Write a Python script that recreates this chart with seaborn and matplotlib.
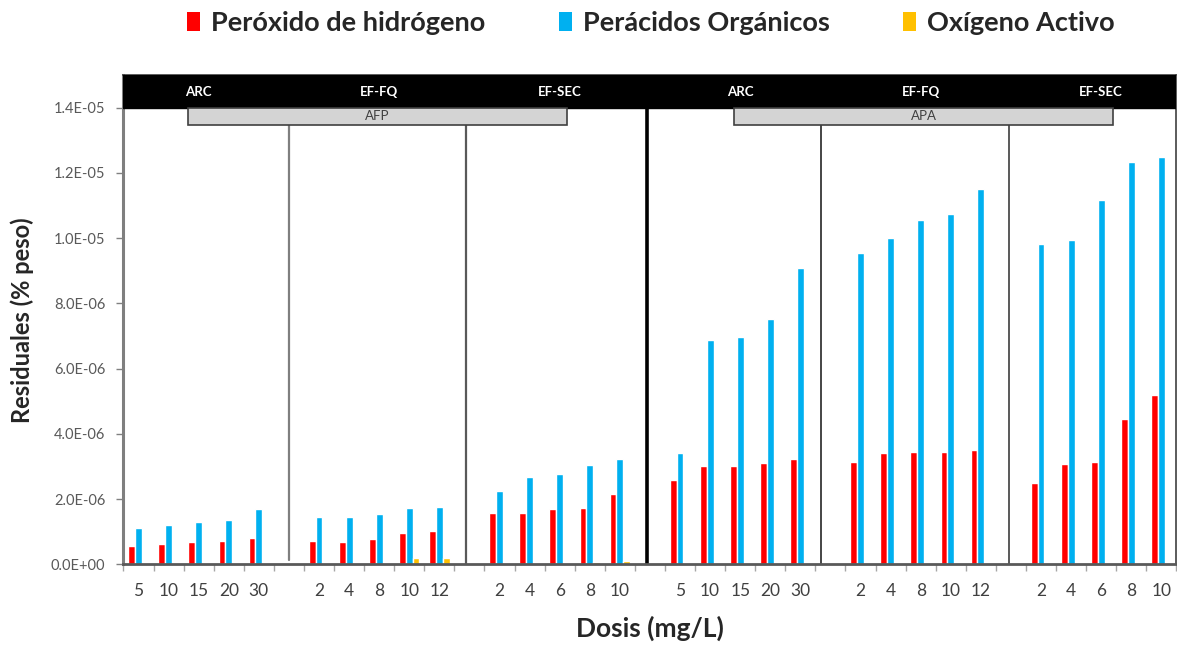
import numpy as np
import pandas as pd
import matplotlib
matplotlib.use("Agg")
import matplotlib.pyplot as plt
from matplotlib.patches import Patch, Rectangle
import seaborn as sns

# ---------------- data ----------------
process = ["AFP", "APA"]
stages = ["ARC", "EF-FQ", "EF-SEC"]
doses_arc = ["5", "10", "15", "20", "30"]
doses_effq = ["2", "4", "8", "10", "12"]
doses_efsec = ["2", "4", "6", "8", "10"]

series = ["Peróxido de hidrógeno", "Perácidos Orgánicos", "Oxígeno Activo"]
colors = ["#FF0000", "#00B0F0", "#FFC000"]

# AFP
afp_arc_h2o2 = [0.58e-6, 0.63e-6, 0.69e-6, 0.71e-6, 0.82e-6]
afp_arc_perac = [1.11e-6, 1.21e-6, 1.29e-6, 1.37e-6, 1.71e-6]
afp_arc_ox = [0, 0, 0, 0, 0]
afp_effq_h2o2 = [0.73e-6, 0.69e-6, 0.79e-6, 0.95e-6, 1.04e-6]
afp_effq_perac = [1.44e-6, 1.46e-6, 1.54e-6, 1.72e-6, 1.76e-6]
afp_effq_ox = [0, 0, 0, 0.19e-6, 0.19e-6]
afp_efsec_h2o2 = [1.58e-6, 1.58e-6, 1.71e-6, 1.72e-6, 2.17e-6]
afp_efsec_perac = [2.25e-6, 2.68e-6, 2.77e-6, 3.06e-6, 3.23e-6]
afp_efsec_ox = [0, 0, 0, 0.09e-6, 0.10e-6]
# APA
apa_arc_h2o2 = [2.59e-6, 3.03e-6, 3.03e-6, 3.11e-6, 3.23e-6]
apa_arc_perac = [3.42e-6, 6.89e-6, 6.98e-6, 7.53e-6, 9.08e-6]
apa_arc_ox = [0, 0, 0, 0, 0]
apa_effq_h2o2 = [3.15e-6, 3.41e-6, 3.46e-6, 3.46e-6, 3.50e-6]
apa_effq_perac = [9.55e-6, 10.0e-6, 10.57e-6, 10.75e-6, 11.52e-6]
apa_effq_ox = [0, 0, 0, 0, 0]
apa_efsec_h2o2 = [2.51e-6, 3.07e-6, 3.14e-6, 4.47e-6, 5.20e-6]
apa_efsec_perac = [9.82e-6, 9.93e-6, 11.18e-6, 12.34e-6, 12.50e-6]
apa_efsec_ox = [0, 0, 0, 0, 0]

yticks = [0, 2e-6, 4e-6, 6e-6, 8e-6, 1.0e-5, 1.2e-5, 1.4e-5]

# ---------------- build long table ----------------
blocks = [
    ("AFP", "ARC", doses_arc, afp_arc_h2o2, afp_arc_perac, afp_arc_ox),
    ("AFP", "EF-FQ", doses_effq, afp_effq_h2o2, afp_effq_perac, afp_effq_ox),
    ("AFP", "EF-SEC", doses_efsec, afp_efsec_h2o2, afp_efsec_perac, afp_efsec_ox),
    ("APA", "ARC", doses_arc, apa_arc_h2o2, apa_arc_perac, apa_arc_ox),
    ("APA", "EF-FQ", doses_effq, apa_effq_h2o2, apa_effq_perac, apa_effq_ox),
    ("APA", "EF-SEC", doses_efsec, apa_efsec_h2o2, apa_efsec_perac, apa_efsec_ox),
]
rows = []
order = []
ticklabels = []
block_centers = []
gap_slots = []
for bi, (p, st, doses, h, pa, ox) in enumerate(blocks):
    if bi > 0:
        gid = f"gap{bi}"
        order.append(gid)
        ticklabels.append("")
        gap_slots.append(len(order) - 1)
    start = len(order)
    for d, a, b, c in zip(doses, h, pa, ox):
        cid = f"{p}|{st}|{d}"
        order.append(cid)
        ticklabels.append(d)
        rows.append((cid, series[0], a))
        rows.append((cid, series[1], b))
        rows.append((cid, series[2], c))
    block_centers.append((st, (start + len(order) - 1) / 2))
df = pd.DataFrame(rows, columns=["slot", "serie", "valor"])

# ---------------- plot ----------------
sns.set_theme(style="white")
plt.rcParams["font.family"] = ["Lato", "DejaVu Sans"]

fig = plt.figure(figsize=(11.77, 6.48), dpi=100)
ax = fig.add_axes([0.1049, 0.1289, 0.8946, 0.7554])

sns.barplot(data=df, x="slot", y="valor", hue="serie", order=order,
            hue_order=series, palette=colors, width=0.68, gap=0,
            dodge=True, ax=ax, legend=False, saturation=1, errorbar=None)

n = len(order)
ax.set_xlim(-0.5, n - 0.5)
ax.set_ylim(0, 1.5e-5)

ax.set_xticks(range(n))
ax.set_xticklabels(ticklabels, fontsize=12.5, color="#404040")
ax.set_xticks(np.arange(-0.5, n, 1.0), minor=True)
ax.tick_params(axis="x", which="major", length=0, pad=13)
ax.tick_params(axis="x", which="minor", length=5, width=1, color="#A6A6A6",
               direction="out", bottom=True)

ax.set_yticks(yticks)
ax.set_yticklabels([f"{v:.1E}" for v in yticks], fontsize=10.5, color="#595959")
ax.tick_params(axis="y", which="major", length=5, width=1, color="#808080",
               direction="out", left=True, pad=8)

for s in ax.spines.values():
    s.set_color("#404040")
    s.set_linewidth(1.2)
ax.spines["left"].set_color("#7F7F7F")
ax.spines["left"].set_linewidth(2.2)
ax.spines["bottom"].set_color("#595959")
ax.spines["bottom"].set_linewidth(2)

ax.set_xlabel("Dosis (mg/L)", fontsize=19, fontweight="bold", labelpad=12)
ax.set_ylabel("Residuales (% peso)", fontsize=17, fontweight="bold", labelpad=12)

# header black bar
ax.axhspan(1.4e-5, 1.5e-5, color="black", zorder=5)
for st, cx in block_centers:
    ax.text(cx, 1.449e-5, st, ha="center", va="center", color="white",
            fontsize=9.5, fontweight="bold", zorder=6)

# dividers
ax.axvline(gap_slots[0], ymin=0.01, ymax=1.4 / 1.5, color="#7F7F7F", lw=1.6, zorder=1)
ax.axvline(gap_slots[1] - 0.1, ymin=0, ymax=1.4 / 1.5, color="#595959", lw=1.6, zorder=1)
ax.axvline(gap_slots[2] - 0.1, ymin=0, ymax=1.4 / 1.5, color="black", lw=2.6, zorder=1)
ax.axvline(gap_slots[3] - 0.3, ymin=0, ymax=1.4 / 1.5, color="#262626", lw=1.2, zorder=1)
ax.axvline(gap_slots[4] - 0.05, ymin=0, ymax=1.4 / 1.5, color="#595959", lw=1.4, zorder=1)

# process boxes
for label, x0 in zip(process, [1.64, 19.8]):
    ax.add_patch(Rectangle((x0, 1.348e-5), 12.6, 0.052e-5, facecolor="#D4D4D4",
                           edgecolor="#404040", lw=1.2, zorder=7))
    ax.text(x0 + 6.3, 1.373e-5, label, ha="center", va="center",
            fontsize=9.5, color="#404040", zorder=8)

# legend
handles = [Patch(facecolor=c, edgecolor="none") for c in colors]
fig.legend(handles, series, loc="center", bbox_to_anchor=(0.553, 0.965), ncol=3,
           frameon=False, prop={"weight": "bold", "size": 19.5},
           handlelength=0.5, handleheight=0.7, handletextpad=0.4, columnspacing=2.7)

fig.savefig("out.png", dpi=100)
